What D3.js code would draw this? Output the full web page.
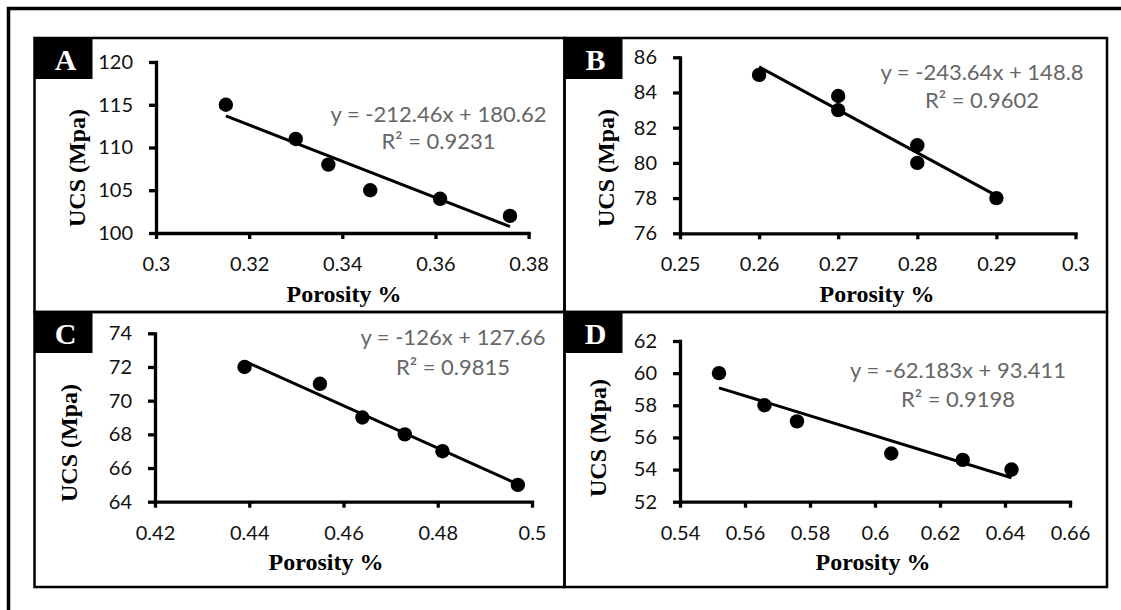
<!DOCTYPE html>
<html>
<head>
<meta charset="utf-8">
<script src="https://cdn.jsdelivr.net/npm/d3@7"></script>
<style>
  body { margin: 0; background: #fff; }
  svg { display: block; }
  .serif { font-family: "Liberation Serif", "DejaVu Serif", serif; font-weight: bold; }
  .sans { font-family: Lato, "Open Sans", sans-serif; }
</style>
</head>
<body>
<svg width="1121" height="610"></svg>
<script>
// UCS vs porosity, four samples (A-D), with linear trendlines

const panelNames = ["A", "B", "C", "D"];

const porosityA = [0.315, 0.33, 0.337, 0.346, 0.361, 0.376];
const ucsA      = [115, 111, 108, 105, 104, 102];
const porosityB = [0.26, 0.27, 0.27, 0.28, 0.28, 0.29];
const ucsB      = [85, 83.8, 83, 81, 80, 78];
const porosityC = [0.439, 0.455, 0.464, 0.473, 0.481, 0.497];
const ucsC      = [72, 71, 69, 68, 67, 65];
const porosityD = [0.552, 0.566, 0.576, 0.605, 0.627, 0.642];
const ucsD      = [60, 58, 57, 55, 54.6, 54];

const slopes     = [-212.46, -243.64, -126, -62.183];
const intercepts = [180.62, 148.8, 127.66, 93.411];
const equations  = ["y = -212.46x + 180.62", "y = -243.64x + 148.8", "y = -126x + 127.66", "y = -62.183x + 93.411"];
const rSquared   = ["R² = 0.9231", "R² = 0.9602", "R² = 0.9815", "R² = 0.9198"];

const xTicksA = [0.3, 0.32, 0.34, 0.36, 0.38];
const xTicksB = [0.25, 0.26, 0.27, 0.28, 0.29, 0.3];
const xTicksC = [0.42, 0.44, 0.46, 0.48, 0.5];
const xTicksD = [0.54, 0.56, 0.58, 0.6, 0.62, 0.64, 0.66];
const yTicksA = [100, 105, 110, 115, 120];
const yTicksB = [76, 78, 80, 82, 84, 86];
const yTicksC = [64, 66, 68, 70, 72, 74];
const yTicksD = [52, 54, 56, 58, 60, 62];

const xTitle = "Porosity %";
const yTitle = "UCS (Mpa)";

// where each panel sits on the page
const layout = [
  {frame: [34.5, 38, 564.5, 312],  plot: [156, 528.6, 62, 233],      eqPos: [438.5, 122, 149], yl: [85, 168],  xl: [344, 302]},
  {frame: [564.5, 38, 1107, 312],  plot: [680, 1075.5, 57.3, 233.3], eqPos: [982, 80, 108],    yl: [614, 168], xl: [877, 302]},
  {frame: [34.5, 312, 564.5, 587], plot: [155, 532, 333.3, 501.7],   eqPos: [453, 345, 375],   yl: [77, 443],  xl: [326, 570]},
  {frame: [564.5, 312, 1107, 587], plot: [680, 1070, 341, 501.7],    eqPos: [958, 378, 407],   yl: [606, 438], xl: [873, 570]}
];

const panels = panelNames.map((name, i) => ({
  name,
  x: [porosityA, porosityB, porosityC, porosityD][i],
  y: [ucsA, ucsB, ucsC, ucsD][i],
  xTicks: [xTicksA, xTicksB, xTicksC, xTicksD][i],
  yTicks: [yTicksA, yTicksB, yTicksC, yTicksD][i],
  slope: slopes[i], intercept: intercepts[i],
  eq: equations[i], r2: rSquared[i],
  ...layout[i]
}));

const svg = d3.select("svg");

// outer figure frame (only top and left edges are in view)
svg.append("path")
  .attr("d", "M8.5,610 V8.5 H1121")
  .attr("fill", "none")
  .attr("stroke", "#000")
  .attr("stroke-width", 3.5);

panels.forEach(p => {
  const [fx0, fy0, fx1, fy1] = p.frame;
  const [left, right, top, bottom] = p.plot;

  svg.append("rect")
    .attr("x", fx0).attr("y", fy0)
    .attr("width", fx1 - fx0).attr("height", fy1 - fy0)
    .attr("fill", "none").attr("stroke", "#000").attr("stroke-width", 2.5);

  // letter tag
  svg.append("rect")
    .attr("x", fx0).attr("y", fy0)
    .attr("width", 58).attr("height", 41)
    .attr("fill", "#000");
  svg.append("text")
    .attr("class", "serif")
    .attr("x", fx0 + 31).attr("y", fy0 + 32)
    .attr("text-anchor", "middle")
    .attr("font-size", 30)
    .attr("fill", "#fff")
    .text(p.name);

  const x = d3.scaleLinear().domain(d3.extent(p.xTicks)).range([left, right]);
  const y = d3.scaleLinear().domain(d3.extent(p.yTicks)).range([bottom, top]);

  const gx = svg.append("g")
    .attr("transform", `translate(0,${bottom})`)
    .call(d3.axisBottom(x).tickValues(p.xTicks).tickFormat(d => String(d))
      .tickSize(6).tickSizeOuter(0).tickPadding(18));
  const gy = svg.append("g")
    .attr("transform", `translate(${left},0)`)
    .call(d3.axisLeft(y).tickValues(p.yTicks).tickFormat(d => String(d))
      .tickSize(7).tickSizeOuter(0).tickPadding(16));

  [gx, gy].forEach(g => {
    g.attr("font-family", null).attr("class", "sans").attr("font-size", 20);
    g.select(".domain").attr("stroke-width", 3.3).attr("stroke-linecap", "square");
    g.selectAll(".tick line").attr("stroke-width", 3.3);
    g.selectAll(".tick text").attr("fill", "#111");
  });

  // trendline
  const xr = d3.extent(p.x);
  svg.append("path")
    .datum(xr.map(v => [v, p.slope * v + p.intercept]))
    .attr("d", d3.line().x(d => x(d[0])).y(d => y(d[1])))
    .attr("fill", "none").attr("stroke", "#000").attr("stroke-width", 3);

  svg.append("g").selectAll("circle")
    .data(p.x.map((v, i) => [v, p.y[i]]))
    .join("circle")
    .attr("cx", d => x(d[0]))
    .attr("cy", d => y(d[1]))
    .attr("r", 7.2)
    .attr("fill", "#000");

  // equation + R²
  const eqG = svg.append("g")
    .attr("class", "sans").attr("font-size", 22)
    .attr("fill", "#666").attr("text-anchor", "middle");
  eqG.append("text").attr("x", p.eqPos[0]).attr("y", p.eqPos[1]).text(p.eq);
  eqG.append("text").attr("x", p.eqPos[0]).attr("y", p.eqPos[2]).text(p.r2);

  // axis titles
  svg.append("text")
    .attr("class", "serif")
    .attr("x", p.xl[0]).attr("y", p.xl[1])
    .attr("text-anchor", "middle")
    .attr("font-size", 24)
    .text(xTitle);
  svg.append("text")
    .attr("class", "serif")
    .attr("transform", `translate(${p.yl[0]},${p.yl[1]}) rotate(-90)`)
    .attr("text-anchor", "middle")
    .attr("font-size", 24)
    .text(yTitle);
});
</script>
</body>
</html>
